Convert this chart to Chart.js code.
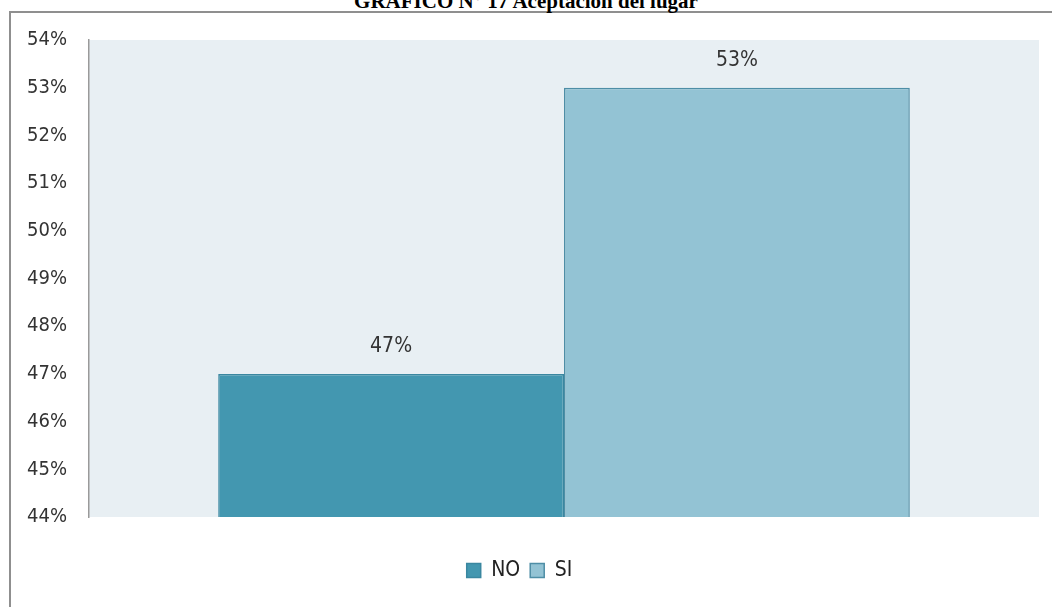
<!DOCTYPE html>
<html>
<head>
<meta charset="utf-8">
<script src="https://cdn.jsdelivr.net/npm/chart.js@4"></script>
<style>
  html, body { margin: 0; padding: 0; background: #fff; overflow: hidden; }
  #wrap { position: relative; width: 1052px; height: 607px; overflow: hidden; }
  #frame { position: absolute; left: 9px; top: 11px; width: 1200px; height: 800px; border: 2px solid #8f8f8f; box-sizing: border-box; }
  #title { position: absolute; left: 0; width: 1052px; top: -11px; text-align: center;
           font-family: "Liberation Serif", "Times New Roman", serif; font-weight: bold; font-size: 21px; line-height: 24px; color: #000; }
  canvas { position: absolute; left: 0; top: 0; }
</style>
</head>
<body>
<div id="wrap">
  <div id="frame"></div>
  <div id="title">GRAFICO N° 17 Aceptación del lugar</div>
  <canvas id="c" width="1052" height="607"></canvas>
</div>
<script>
const categories = ['Aceptación del lugar'];
const seriesNames = ['NO', 'SI'];
const noValues = [47];
const siValues = [53];
const yMin = 44;
const yMax = 54;
const yStep = 1;

const FONT = "'DejaVu Sans Condensed', 'Liberation Sans Narrow', 'DejaVu Sans', sans-serif";

const plotBg = {
  id: 'plotBg',
  beforeDraw(chart) {
    const { ctx, chartArea: a } = chart;
    ctx.save();
    ctx.fillStyle = '#E8EFF3';
    ctx.fillRect(a.left, a.top, a.right - a.left, a.bottom - a.top);
    ctx.restore();
  }
};

const valueLabels = {
  id: 'valueLabels',
  afterDatasetsDraw(chart) {
    const { ctx } = chart;
    ctx.save();
    ctx.font = "21px " + FONT;
    ctx.fillStyle = '#333333';
    ctx.textAlign = 'center';
    ctx.textBaseline = 'middle';
    chart.data.datasets.forEach((ds, i) => {
      const meta = chart.getDatasetMeta(i);
      meta.data.forEach((bar, j) => {
        ctx.fillText(ds.data[j] + '%', bar.x, bar.y - 27);
      });
    });
    ctx.restore();
  }
};

new Chart(document.getElementById('c'), {
  type: 'bar',
  data: {
    labels: categories,
    datasets: [
      { label: seriesNames[0], data: noValues, backgroundColor: '#4397B0', borderColor: '#3A87A0', borderWidth: 1.5, borderSkipped: false },
      { label: seriesNames[1], data: siValues, backgroundColor: '#93C3D4', borderColor: '#4E8EA6', borderWidth: 1.5, borderSkipped: false }
    ]
  },
  options: {
    responsive: false,
    animation: false,
    devicePixelRatio: 1,
    layout: { padding: { top: 40, right: 13, bottom: 16, left: 0 } },
    datasets: { bar: { categoryPercentage: 0.728, barPercentage: 1 } },
    scales: {
      x: {
        display: true,
        grid: { display: false, drawTicks: false },
        border: { display: false },
        ticks: { display: false },
        afterFit(scale) { scale.height = 33; }
      },
      y: {
        min: yMin, max: yMax,
        grid: { display: false, drawTicks: false },
        border: { display: true, color: '#9a9a9a', width: 1.5 },
        ticks: {
          stepSize: yStep, padding: 22, color: '#333333',
          font: { family: FONT, size: 20 },
          callback: v => v + '%'
        },
        afterFit(scale) { scale.width = 89; }
      }
    },
    plugins: {
      legend: {
        position: 'bottom',
        labels: {
          boxWidth: 14, boxHeight: 14, padding: 10, color: '#222',
          font: { family: FONT, size: 21 }
        }
      },
      tooltip: { enabled: false },
      title: { display: false }
    }
  },
  plugins: [plotBg, valueLabels]
});
</script>
</body>
</html>
